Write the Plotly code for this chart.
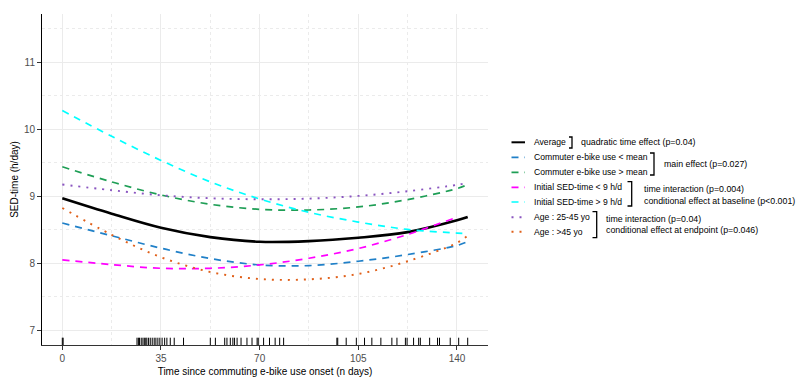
import plotly.graph_objects as go

# ---------------- data ----------------
t_common = [0, 17.5, 35, 52.5, 70, 87.5, 105, 122.5, 140, 143.8]
t_initial_low = [0, 17.5, 35, 52.5, 70, 87.5, 105, 122.5, 138.5]

average = [8.97, 8.74, 8.53, 8.39, 8.32, 8.33, 8.38, 8.465, 8.64, 8.69]
commuter_low = [8.60, 8.41, 8.225, 8.07, 7.975, 7.965, 8.03, 8.13, 8.265, 8.325]
commuter_high = [9.44, 9.215, 9.02, 8.88, 8.805, 8.795, 8.84, 8.95, 9.115, 9.175]
initial_low = [8.05, 7.98, 7.925, 7.925, 7.975, 8.075, 8.22, 8.43, 8.665]
initial_high = [10.28, 9.895, 9.535, 9.215, 8.96, 8.76, 8.615, 8.505, 8.45, 8.44]
age_young = [9.175, 9.09, 9.015, 8.97, 8.955, 8.965, 9.005, 9.075, 9.17, 9.2]
age_old = [8.825, 8.425, 8.09, 7.87, 7.765, 7.76, 7.84, 8.03, 8.305, 8.415]

rug_days = [0, 0.3, 26.5, 27.0, 27.4, 28.0, 28.6, 29.1, 29.6, 30.0, 30.6, 31.2, 31.9,
            32.6, 33.2, 33.9, 34.6, 35.4, 36.3, 37.1, 38.3, 39.7, 43.0,
            52.5, 54.3, 57.6, 58.4, 59.6, 60.5, 61.1, 62.0, 63.4, 65.5, 67.3,
            69.1, 69.5, 71.4, 73.5, 75.5, 77.1, 78.5,
            97.4, 97.7, 100.7, 104.3, 107.2, 109.8, 113.0, 116.9, 118.7, 121.7,
            122.3, 124.6, 126.4, 127.0, 130.3, 133.1, 133.8, 137.6, 140.6, 143.8]

x_ticks = [0, 35, 70, 105, 140]
x_minor = [17.5, 52.5, 87.5, 122.5]
y_ticks = [7, 8, 9, 10, 11]
y_minor = [7.5, 8.5, 9.5, 10.5, 11.5]

legend_labels = ["Average", "Commuter e-bike use < mean", "Commuter e-bike use > mean",
                 "Initial SED-time < 9 h/d", "Initial SED-time > 9 h/d",
                 "Age : 25-45 yo", "Age : >45 yo"]
effect_labels = ["quadratic time effect (p=0.04)", "main effect (p=0.027)",
                 "time interaction (p=0.004)", "conditional effect at baseline (p<0.001)",
                 "time interaction (p=0.04)", "conditional effect at endpoint (p=0.046)"]

# ---------------- styles ----------------
FONT = "Liberation Sans, Arial, sans-serif"
DASH = "7px,6px"
DOT = "2px,6px"
series = [
    (t_common, average, "#000000", "solid", 2.6),
    (t_common, commuter_low, "#2080C8", DASH, 1.7),
    (t_common, commuter_high, "#1E9E55", DASH, 1.7),
    (t_initial_low, initial_low, "#FF00FF", DASH, 1.7),
    (t_common, initial_high, "#00FFFF", DASH, 1.7),
    (t_common, age_young, "#8A55C0", DOT, 1.9),
    (t_common, age_old, "#E0601A", DOT, 1.9),
]

fig = go.Figure()
for (tx, ty, col, dash, w), name in zip(series, legend_labels):
    fig.add_trace(go.Scatter(x=tx, y=ty, mode="lines", name=name, showlegend=False,
                             line=dict(color=col, dash=dash, width=w, shape="spline", smoothing=1.0)))

# plot area in pixels
L, R, T, B = 42, 488, 14, 345
W, H = 796, 378


def px(x):
    return (x - L) / (R - L)


def py(y):
    return (B - y) / (B - T)


shapes = []
# rug
for d in rug_days:
    shapes.append(dict(type="line", xref="x", yref="y domain", x0=d, x1=d, y0=0, y1=0.022,
                       line=dict(color="black", width=1)))

# manual legend
legend_y = [142.3, 157.3, 172.3, 187.3, 202, 217.3, 231.7]
annotations = []
for (tx, ty, col, dash, w), name, ly in zip(series, legend_labels, legend_y):
    shapes.append(dict(type="line", xref="paper", yref="paper", x0=px(511.5), x1=px(525),
                       y0=py(ly), y1=py(ly), line=dict(color=col, dash=dash, width=min(w, 2.0))))
    annotations.append(dict(xref="paper", yref="paper", x=px(531.5), y=py(ly), text=name,
                            showarrow=False, xanchor="left", yanchor="middle",
                            font=dict(family=FONT, size=8.6, color="black")))

# brackets
brackets = [(572, 137, 148, 569), (654, 153, 175, 650), (631.7, 181.7, 206, 627.5),
            (596.7, 211.7, 237.7, 592.5)]
for bx, y0, y1, tx0 in brackets:
    path = (f"M {px(tx0)} {py(y0)} L {px(bx)} {py(y0)} L {px(bx)} {py(y1)} "
            f"L {px(tx0)} {py(y1)}")
    shapes.append(dict(type="path", xref="paper", yref="paper", path=path,
                       line=dict(color="black", width=1.3)))

effect_pos = [(579.3, 142.3), (661.7, 163.5), (641.7, 188.5), (641.7, 201),
              (604, 219), (604, 230.5)]
for text, (ex, ey) in zip(effect_labels, effect_pos):
    annotations.append(dict(xref="paper", yref="paper", x=px(ex), y=py(ey), text=text,
                            showarrow=False, xanchor="left", yanchor="middle",
                            font=dict(family=FONT, size=8.8, color="black")))

fig.update_layout(
    width=W, height=H,
    margin=dict(l=L, r=W - R, t=T, b=H - B, pad=0, autoexpand=False),
    paper_bgcolor="white", plot_bgcolor="white",
    font=dict(family=FONT, size=10, color="#4d4d4d"),
    shapes=shapes, annotations=annotations,
    showlegend=False,
)
fig.update_xaxes(
    range=[-7.2, 151.0], tickvals=x_ticks, ticktext=[str(v) for v in x_ticks],
    automargin=False,
    showgrid=True, gridcolor="#ebebeb", gridwidth=1, zeroline=False,
    minor=dict(tickvals=x_minor, showgrid=True, gridcolor="#ebebeb", griddash="dot", gridwidth=1),
    showline=True, linecolor="#333333", linewidth=1,
    ticks="outside", ticklen=4, tickcolor="#333333",
    tickfont=dict(family=FONT, size=10, color="#4d4d4d"),
    title=dict(text="Time since commuting e-bike use onset (n days)",
               font=dict(family=FONT, size=10, color="black"), standoff=4),
)
fig.update_yaxes(
    range=[6.78, 11.72], tickvals=y_ticks, ticktext=[str(v) for v in y_ticks],
    automargin=False,
    showgrid=True, gridcolor="#ebebeb", gridwidth=1, zeroline=False,
    minor=dict(tickvals=y_minor, showgrid=True, gridcolor="#ebebeb", griddash="dot", gridwidth=1),
    showline=True, linecolor="black", linewidth=1,
    ticks="outside", ticklen=4, tickcolor="#333333",
    tickfont=dict(family=FONT, size=10, color="#4d4d4d"),
    title=dict(text="SED-time (h/day)", font=dict(family=FONT, size=10, color="black"), standoff=3),
)

fig.write_html("out.html", config={"displayModeBar": False},
               post_script="document.body.style.margin='0';document.body.style.overflow='hidden';")
